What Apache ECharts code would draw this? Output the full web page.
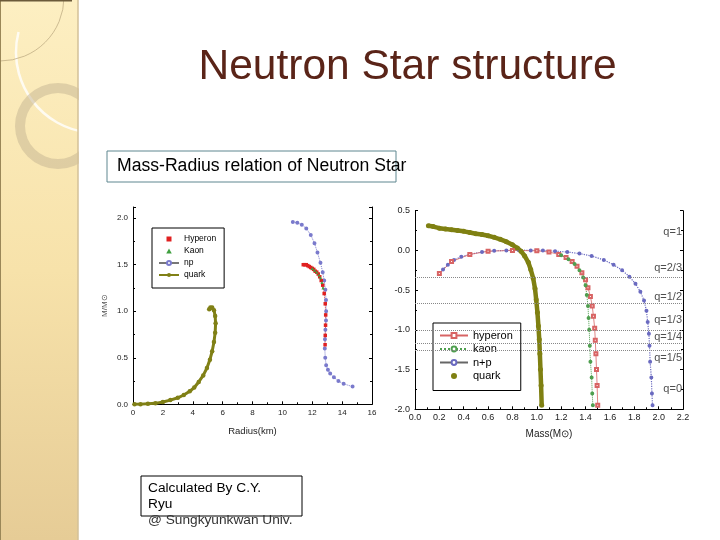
<!DOCTYPE html>
<html><head><meta charset="utf-8">
<script src="https://cdn.jsdelivr.net/npm/echarts@6/dist/echarts.min.js"></script>
<style>html,body{margin:0;padding:0;background:#fff}#c{width:720px;height:540px}</style>
</head><body><div id="c"></div><script>
// ---- Left panel: Mass vs Radius ----
const leftHyperon = [[11.4,1.50],[11.5,1.50],[11.6,1.50],[11.7,1.49],[11.8,1.48],[11.9,1.47],[12.0,1.46],[12.1,1.45],[12.2,1.43],[12.3,1.42],[12.4,1.40],[12.5,1.37],[12.6,1.33],[12.7,1.28],[12.8,1.19],[12.87,1.08],[12.9,0.96],[12.89,0.85],[12.87,0.74],[12.86,0.64]];
const leftKaon = [[12.0,1.46],[12.15,1.44],[12.3,1.42],[12.45,1.39],[12.55,1.36],[12.65,1.31],[12.72,1.25]];
const leftNp = [[10.7,1.96],[11.0,1.95],[11.3,1.93],[11.6,1.89],[11.9,1.82],[12.15,1.73],[12.35,1.63],[12.55,1.52],[12.7,1.42],[12.8,1.33],[12.88,1.23],[12.92,1.12],[12.93,1.00],[12.92,0.90],[12.88,0.80],[12.85,0.70],[12.84,0.60],[12.87,0.50],[12.93,0.42],[13.05,0.37],[13.2,0.33],[13.45,0.29],[13.75,0.25],[14.1,0.22],[14.7,0.19]];
const leftQuark = [[0.1,0.0],[0.5,0.0],[1.0,0.005],[1.5,0.01],[2.0,0.025],[2.5,0.045],[3.0,0.07],[3.4,0.10],[3.8,0.14],[4.1,0.18],[4.4,0.24],[4.7,0.31],[4.95,0.39],[5.15,0.48],[5.3,0.57],[5.42,0.67],[5.5,0.77],[5.53,0.87],[5.5,0.95],[5.42,1.01],[5.3,1.04],[5.18,1.04],[5.1,1.02]];

// ---- Right panel: curves vs Mass ----
const rightHyperon = [[0.2,-0.29],[0.3,-0.14],[0.45,-0.05],[0.6,-0.01],[0.8,0.0],[1.0,-0.005],[1.1,-0.02],[1.18,-0.05],[1.24,-0.09],[1.29,-0.14],[1.33,-0.20],[1.37,-0.28],[1.4,-0.37],[1.42,-0.47],[1.44,-0.58],[1.455,-0.70],[1.465,-0.83],[1.475,-0.98],[1.48,-1.13],[1.485,-1.30],[1.49,-1.50],[1.495,-1.70],[1.5,-1.95]];
const rightKaon = [[1.2,-0.06],[1.26,-0.11],[1.31,-0.17],[1.35,-0.25],[1.38,-0.34],[1.4,-0.44],[1.41,-0.56],[1.42,-0.70],[1.425,-0.85],[1.43,-1.00],[1.435,-1.20],[1.44,-1.40],[1.45,-1.60],[1.455,-1.80],[1.46,-1.95]];
const rightNp = [[0.2,-0.29],[0.23,-0.24],[0.27,-0.18],[0.32,-0.12],[0.38,-0.08],[0.45,-0.05],[0.55,-0.02],[0.65,-0.005],[0.75,0.0],[0.85,0.005],[0.95,0.0],[1.05,0.0],[1.15,-0.01],[1.25,-0.02],[1.35,-0.04],[1.45,-0.07],[1.55,-0.12],[1.63,-0.18],[1.7,-0.25],[1.76,-0.33],[1.81,-0.42],[1.85,-0.52],[1.88,-0.63],[1.9,-0.76],[1.91,-0.90],[1.92,-1.05],[1.925,-1.20],[1.93,-1.40],[1.94,-1.60],[1.945,-1.80],[1.95,-1.95]];
const rightQuark = [[0.11,0.31],[0.15,0.30],[0.2,0.28],[0.25,0.27],[0.3,0.26],[0.35,0.25],[0.4,0.24],[0.45,0.225],[0.5,0.21],[0.55,0.20],[0.6,0.185],[0.65,0.165],[0.7,0.14],[0.75,0.11],[0.8,0.07],[0.84,0.03],[0.87,-0.01],[0.9,-0.07],[0.93,-0.15],[0.95,-0.24],[0.97,-0.35],[0.985,-0.48],[0.995,-0.62],[1.005,-0.78],[1.013,-0.95],[1.02,-1.12],[1.025,-1.30],[1.03,-1.50],[1.035,-1.70],[1.04,-1.95]];

const qLineY = [-0.338,-0.666,-1.002,-1.17,-1.263];
const qLabels = ['q=1','q=2/3','q=1/2','q=1/3','q=1/4','q=1/5','q=0'];
const qLabelY = [0.232,-0.22,-0.586,-0.876,-1.09,-1.355,-1.745];

const FONT = 'Liberation Sans, Arial, sans-serif';
const chart = echarts.init(document.getElementById('c'));

function oneDec(v){ return (Math.abs(v*2-Math.round(v*2))<1e-6) ? v.toFixed(1) : ''; }
const axisBase = {
  axisLine:{show:true,onZero:false,lineStyle:{color:'#000',width:1}},
  axisTick:{show:true,inside:true,length:3,lineStyle:{color:'#000'}},
  minorTick:{show:true,splitNumber:2,length:2,lineStyle:{color:'#000'}},
  splitLine:{show:false}
};

const option = {
  animation:false,
  backgroundColor:'#fff',
  textStyle:{fontFamily:FONT},
  grid:[
    {left:133,right:348,top:207,bottom:135.7},
    {left:415,right:37,top:210.7,bottom:130.7}
  ],
  xAxis:[
    Object.assign({},axisBase,{gridIndex:0,type:'value',min:0,max:16,interval:2,
      axisLabel:{fontSize:8,color:'#222',margin:4,fontFamily:FONT},
      name:'Radius(km)',nameLocation:'middle',nameGap:22,
      nameTextStyle:{fontSize:9.5,color:'#222',fontFamily:FONT}}),
    Object.assign({},axisBase,{gridIndex:1,type:'value',min:0,max:2.2,interval:0.2,
      axisLabel:{fontSize:9,color:'#222',margin:4,fontFamily:FONT,formatter:v=>v.toFixed(1)},
      name:'Mass(M\u2299)',nameLocation:'middle',nameGap:20,
      nameTextStyle:{fontSize:10,color:'#222',fontFamily:FONT}})
  ],
  yAxis:[
    Object.assign({},axisBase,{gridIndex:0,type:'value',min:0,max:2.12,interval:0.5,
      axisLabel:{fontSize:8,color:'#222',margin:5,fontFamily:FONT,formatter:oneDec,showMaxLabel:false},
      name:'M/M\u2299',nameLocation:'middle',nameGap:24,nameRotate:90,
      nameTextStyle:{fontSize:8,color:'#555',fontFamily:FONT}}),
    Object.assign({},axisBase,{gridIndex:0,type:'value',min:0,max:2.12,interval:0.5,position:'right',
      axisLabel:{show:false}}),
    Object.assign({},axisBase,{gridIndex:1,type:'value',min:-2,max:0.5,interval:0.5,
      axisLabel:{fontSize:9,color:'#222',margin:5,fontFamily:FONT,formatter:v=>v.toFixed(1)}}),
    Object.assign({},axisBase,{gridIndex:1,type:'value',min:-2,max:0.5,interval:0.5,position:'right',
      axisLabel:{show:false}})
  ],
  legend:[
    {orient:'vertical',left:152,top:228,padding:[6,8,8,6],itemGap:2,itemWidth:20,itemHeight:5,
     borderColor:'#000',borderWidth:1,backgroundColor:'#fff',
     textStyle:{fontSize:8.5,color:'#000',fontFamily:FONT,lineHeight:10},
     data:[{name:'Hyperon',icon:'path://M0,0h10v10h-10z'},
           {name:'Kaon',icon:'path://M5,0L10,9H0Z'},
           {name:'np',lineStyle:{type:'solid',color:'#777'}},
           {name:'quark'}]},
    {orient:'vertical',left:433,top:323,padding:[6,8,8,6],itemGap:0.5,itemWidth:28,itemHeight:6,
     borderColor:'#000',borderWidth:1,backgroundColor:'#fff',
     textStyle:{fontSize:11,color:'#000',fontFamily:FONT,lineHeight:13},
     data:[{name:'hyperon',lineStyle:{type:'solid'}},
           {name:'kaon'},
           {name:'n+p',lineStyle:{type:'solid',color:'#666'}},
           {name:'quark',icon:'circle',itemStyle:{color:'#7f8012'}}]}
  ],
  series:[
    {name:'np',type:'line',xAxisIndex:0,yAxisIndex:0,data:leftNp,symbol:'emptyCircle',symbolSize:2,showAllSymbol:true,
     itemStyle:{color:'#7a7acc'},lineStyle:{color:'#7a7acc',type:'dotted',width:1}},
    {name:'quark',type:'line',xAxisIndex:0,yAxisIndex:0,data:leftQuark,symbol:'circle',symbolSize:4.5,showAllSymbol:true,
     itemStyle:{color:'#808016'},lineStyle:{color:'#808016',width:3}},
    {name:'Hyperon',type:'line',xAxisIndex:0,yAxisIndex:0,data:leftHyperon,symbol:'rect',symbolSize:3.5,showAllSymbol:true,
     itemStyle:{color:'#e02020'},lineStyle:{color:'#d03a3a',type:'dotted',width:1}},
    {name:'Kaon',type:'line',xAxisIndex:0,yAxisIndex:0,data:leftKaon,symbol:'triangle',symbolSize:3,showAllSymbol:true,
     itemStyle:{color:'#3f9f3f'},lineStyle:{color:'#3f9f3f',type:'dotted',width:1}},

    {name:'n+p',type:'line',xAxisIndex:1,yAxisIndex:2,data:rightNp,symbol:'emptyCircle',symbolSize:2,showAllSymbol:true,
     itemStyle:{color:'#6a6ac0'},lineStyle:{color:'#6a6ac0',type:'dotted',width:1.2},
     markLine:{silent:true,symbol:'none',label:{show:false},
       lineStyle:{color:'#888',type:'dotted',width:1},
       data:qLineY.map(v=>({yAxis:v}))}},
    {name:'hyperon',type:'line',xAxisIndex:1,yAxisIndex:2,data:rightHyperon,symbol:'emptyRect',symbolSize:3,showAllSymbol:true,
     itemStyle:{color:'#d86464'},lineStyle:{color:'#d86464',width:0.8}},
    {name:'kaon',type:'line',xAxisIndex:1,yAxisIndex:2,data:rightKaon,symbol:'emptyCircle',symbolSize:2,showAllSymbol:true,
     itemStyle:{color:'#4f9f4f'},lineStyle:{color:'#4f9f4f',type:'dotted',width:1}},
    {name:'quark',type:'line',xAxisIndex:1,yAxisIndex:2,data:rightQuark,symbol:'circle',symbolSize:5,showAllSymbol:true,
     itemStyle:{color:'#7f8012'},lineStyle:{color:'#7f8012',width:4.5}},
    {name:'qlabels',type:'scatter',xAxisIndex:1,yAxisIndex:2,symbolSize:0,silent:true,
     data:qLabelY.map((y,i)=>({value:[2.2,y],label:{formatter:qLabels[i]}})),
     label:{show:true,position:'left',distance:1,fontSize:11,color:'#222',fontFamily:FONT}}
  ],
  graphic:[
    {type:'rect',z:0,shape:{x:0,y:0,width:78,height:540},
     style:{fill:new echarts.graphic.LinearGradient(0,0,0,1,[{offset:0,color:'#fdefc2'},{offset:0.5,color:'#f7e2aa'},{offset:1,color:'#e6cc96'}])}},
    {type:'arc',z:1,shape:{cx:97,cy:52,r:81,startAngle:1.3,endAngle:Math.PI+0.25,clockwise:true},style:{fill:'none',stroke:'rgba(255,255,255,0.8)',lineWidth:2.5}},
    {type:'circle',z:1,shape:{cx:0,cy:-3,r:64},style:{fill:'none',stroke:'#b8a57c',lineWidth:0.7}},
    {type:'ring',z:1,shape:{cx:58,cy:126,r:43,r0:33},style:{fill:'rgba(195,180,145,0.5)'}},
    {type:'rect',z:2,shape:{x:79,y:0,width:112,height:148},style:{fill:'#fff'}},
    {type:'rect',z:2,shape:{x:79,y:148,width:26,height:32},style:{fill:'#fff'}},
    {type:'line',z:3,shape:{x1:78,y1:0,x2:78,y2:540},style:{stroke:'#d3c098',lineWidth:1.5}},
    {type:'line',z:3,shape:{x1:0.5,y1:0,x2:0.5,y2:540},style:{stroke:'#9a8758',lineWidth:1}},
    {type:'line',z:3,shape:{x1:0,y1:0.7,x2:72,y2:0.7},style:{stroke:'#6b5a3a',lineWidth:1.5}},

    {type:'text',z:5,x:407.5,y:67.5,style:{text:'Neutron Star structure',font:'42.5px '+FONT,fill:'#5a2418',textAlign:'center',textVerticalAlign:'middle'}},
    {type:'rect',z:5,shape:{x:107,y:151,width:289,height:31},style:{fill:'none',stroke:'#5f8790',lineWidth:1}},
    {type:'text',z:5,x:117,y:166.5,style:{text:'Mass-Radius relation of Neutron Star',font:'17.6px '+FONT,fill:'#000',textVerticalAlign:'middle'}},
    {type:'rect',z:5,shape:{x:141,y:476,width:161,height:40},style:{fill:'none',stroke:'#000',lineWidth:1}},
    {type:'text',z:5,x:148,y:488,style:{text:'Calculated By C.Y.',font:'13.7px '+FONT,fill:'#000',textVerticalAlign:'middle'}},
    {type:'text',z:5,x:148,y:504,style:{text:'Ryu',font:'13.7px '+FONT,fill:'#000',textVerticalAlign:'middle'}},
    {type:'text',z:5,x:148,y:520.5,style:{text:'@ Sungkyunkwan Univ.',font:'13.7px '+FONT,fill:'#333',textVerticalAlign:'middle'}}
  ]
};
chart.setOption(option);
</script></body></html>
